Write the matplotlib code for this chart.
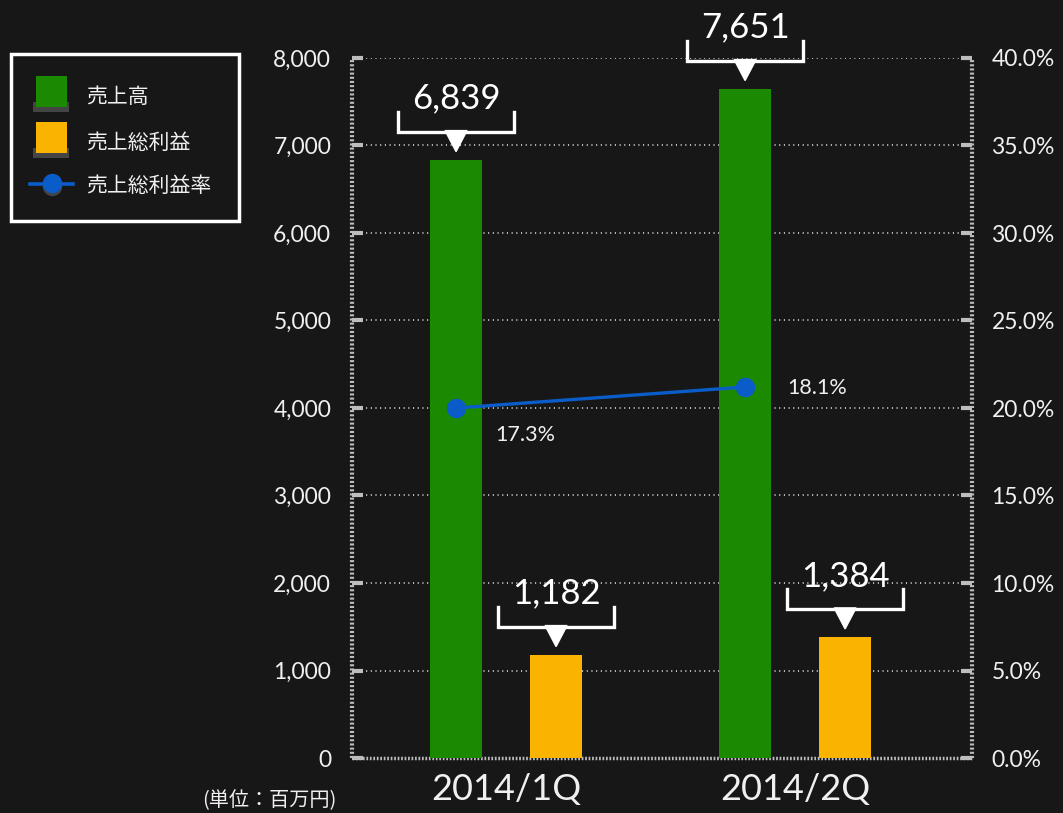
import matplotlib.pyplot as plt
from matplotlib.lines import Line2D
from matplotlib.patches import Polygon, Rectangle
from matplotlib.transforms import IdentityTransform, ScaledTranslation

# データ（単位：百万円）
quarters = ["2014/1Q", "2014/2Q"]
sales = [6839, 7651]
gross_profit = [1182, 1384]
margin_plot = [20.0, 21.2]          # 右軸上で描かれている位置
margin_labels = ["17.3%", "18.1%"]  # 表示されているラベル

left_ticks = [0, 1000, 2000, 3000, 4000, 5000, 6000, 7000, 8000]
right_ticks = [0, 5, 10, 15, 20, 25, 30, 35, 40]

BG = "#171717"
GREEN = "#1c8a00"
ORANGE = "#fab300"
BLUE = "#0a5cc8"
AXIS = "#bdbdbd"
TXT = "#f0f0f0"
JP = ["Noto Sans CJK JP", "DejaVu Sans"]
NUM = ["Lato", "DejaVu Sans"]

W, H = 1063, 813
fig = plt.figure(figsize=(W / 100, H / 100), dpi=100, facecolor=BG)
ax = fig.add_axes([352 / W, 1 - 758 / H, 620 / W, 700 / H])
ax.set_facecolor(BG)

x = list(range(len(quarters)))
off, bw = 0.173, 0.18

# グリッド
for t in left_ticks[1:]:
    ax.axhline(t, color="#cfcfcf", lw=1.3, ls=(0, (0.6, 2.0)), zorder=1)

ax.bar([i - off for i in x], sales, width=bw, color=GREEN, zorder=3)
ax.bar([i + off for i in x], gross_profit, width=bw, color=ORANGE, zorder=3)

ax.set_xlim(-0.533, 1.612)
ax.set_ylim(0, 8000)
ax.set_yticks(left_ticks)
ax.set_yticklabels([f"{t:,}" for t in left_ticks], family=NUM, fontsize=16.5, color=TXT)
ax.set_xticks(x)
ax.set_xticklabels(quarters, family=NUM, fontsize=26, color=TXT)
ax.tick_params(axis="x", length=0, pad=11)
ax.tick_params(axis="y", direction="in", length=8, width=3, color=AXIS, pad=15)

for s in ["left", "bottom"]:
    ax.spines[s].set_color(AXIS)
    ax.spines[s].set_linestyle((0, (0.5, 0.5)))
    ax.spines[s].set_capstyle("butt")
ax.spines["left"].set_linewidth(3)
ax.spines["bottom"].set_linewidth(2.5)
ax.spines["top"].set_visible(False)
ax.spines["right"].set_visible(False)

ax2 = ax.twinx()
ax2.set_ylim(0, 40)
ax2.set_yticks(right_ticks)
ax2.set_yticklabels([f"{t:.1f}%" for t in right_ticks], family=NUM, fontsize=16.5, color=TXT)
ax2.tick_params(axis="y", direction="in", length=8, width=3, color=AXIS, pad=14)
for s in ["left", "bottom", "top"]:
    ax2.spines[s].set_visible(False)
ax2.spines["right"].set_color(AXIS)
ax2.spines["right"].set_linestyle((0, (0.5, 0.5)))
ax2.spines["right"].set_capstyle("butt")
ax2.spines["right"].set_linewidth(3)

ax2.plot([i - off for i in x], margin_plot, color=BLUE, lw=2.4, marker="o",
         markersize=13, zorder=5)
ax2.text(-off, margin_plot[0], margin_labels[0], color=TXT, fontsize=15.5, family=NUM,
         ha="left", va="center",
         transform=ax2.transData + ScaledTranslation(0.39, -0.27, fig.dpi_scale_trans))
ax2.text(1 - off, margin_plot[1], margin_labels[1], color=TXT, fontsize=15.5, family=NUM,
         ha="left", va="center",
         transform=ax2.transData + ScaledTranslation(0.42, -0.01, fig.dpi_scale_trans))


def callout(xv, yv, label):
    px, py = ax.transData.transform((xv, yv))
    ident = IdentityTransform()
    fig.add_artist(Line2D([px - 58, px - 58, px + 58, px + 58],
                          [py + 48, py + 28, py + 28, py + 48],
                          color="white", lw=2.4, transform=ident,
                          solid_joinstyle="miter"))
    fig.add_artist(Polygon([(px - 11, py + 29), (px + 11, py + 29), (px, py + 8)],
                           closed=True, color="white", transform=ident))
    fig.text(px / W, (py + 61) / H, label, color="white", fontsize=25,
             family=NUM, ha="center", va="center")


for i in x:
    callout(i - off, sales[i], f"{sales[i]:,}")
    callout(i + off, gross_profit[i], f"{gross_profit[i]:,}")

# 凡例
def fx(v):
    return v / W


def fy(v):
    return 1 - v / H


fig.add_artist(Rectangle((fx(11), fy(221)), fx(228), 167 / H, transform=fig.transFigure,
                         facecolor=BG, edgecolor="white", lw=2.5))
legend_items = [("売上高", GREEN), ("売上総利益", ORANGE)]
for k, (name, col) in enumerate(legend_items):
    top = 76 + k * 46
    fig.add_artist(Rectangle((fx(33), fy(top + 36)), fx(36), 10 / H,
                             transform=fig.transFigure, facecolor="#444444", edgecolor="none"))
    fig.add_artist(Rectangle((fx(36), fy(top + 31)), fx(31), 31 / H,
                             transform=fig.transFigure, facecolor=col, edgecolor="none"))
    fig.text(fx(86), fy(top + 21), name, color=TXT, fontsize=15, family=JP, va="center")
fig.add_artist(Line2D([fx(30), fx(73)], [fy(184), fy(184)], color=BLUE, lw=2.6,
                      transform=fig.transFigure))
fig.add_artist(Line2D([fx(52)], [fy(186)], marker="o", markersize=13, color="#444444",
                      transform=fig.transFigure))
fig.add_artist(Line2D([fx(52)], [fy(183)], marker="o", markersize=13, color=BLUE,
                      transform=fig.transFigure))
fig.text(fx(86), fy(186), "売上総利益率", color=TXT, fontsize=15, family=JP, va="center")

fig.text(fx(336), fy(801), "(単位：百万円)", color=TXT, fontsize=14.5, family=JP,
         ha="right", va="center")

fig.savefig("out.png", dpi=100, facecolor=BG)
